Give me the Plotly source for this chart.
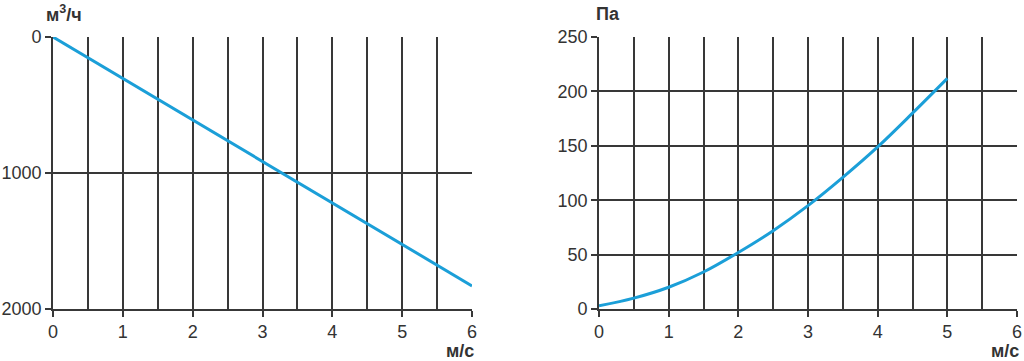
import plotly.graph_objects as go

# Left chart: airflow (m³/h) vs velocity (m/s)
flow_x = [0, 1, 2, 3, 4, 5, 6]
flow_y = [0, 305, 610, 915, 1220, 1525, 1830]

# Right chart: pressure (Pa) vs velocity (m/s)
pres_x = [0, 0.5, 1, 1.5, 2, 2.5, 3, 3.5, 4, 4.5, 5]
pres_y = [3, 10, 20, 34, 52, 72, 95, 121, 149, 180, 212]

x_ticks = [0, 1, 2, 3, 4, 5, 6]
left_y_ticks = [0, 1000, 2000]
right_y_ticks = [0, 50, 100, 150, 200, 250]

LINE = "#1b9fd8"
GRID = "#383838"
TXT = "#333333"
FONT = "Liberation Sans, Arial, sans-serif"
GW = 1.7

W, H = 1024, 361

def px(x):
    return x / W

def py(y):
    return 1 - y / H

fig = go.Figure()
fig.add_trace(go.Scatter(x=flow_x, y=flow_y, mode="lines",
                         line=dict(color=LINE, width=3), xaxis="x", yaxis="y",
                         showlegend=False, hoverinfo="skip"))
fig.add_trace(go.Scatter(x=pres_x, y=pres_y, mode="lines", line_shape="spline",
                         line=dict(color=LINE, width=3), xaxis="x2", yaxis="y2",
                         showlegend=False, hoverinfo="skip"))

ydom = [py(309), py(37)]

def xax(dom, anchor):
    return dict(domain=dom, anchor=anchor, range=[0, 6], tickvals=x_ticks,
                automargin=False,
                showgrid=True, gridcolor=GRID, gridwidth=GW,
                minor=dict(dtick=0.5, tick0=0, showgrid=True, gridcolor=GRID, gridwidth=GW, ticks=""),
                showline=True, linecolor=GRID, linewidth=GW,
                ticks="outside", ticklen=6, tickcolor=GRID, tickwidth=GW,
                tickfont=dict(size=18, color=TXT, family=FONT), zeroline=False)

def yax(dom, anchor, rng, vals):
    return dict(domain=dom, anchor=anchor, range=rng, tickvals=vals,
                automargin=False,
                showgrid=True, gridcolor=GRID, gridwidth=GW,
                showline=True, linecolor=GRID, linewidth=GW,
                ticks="outside", ticklen=6, tickcolor=GRID, tickwidth=GW,
                tickfont=dict(size=18, color=TXT, family=FONT), zeroline=False)

fig.update_layout(
    width=W, height=H,
    margin=dict(l=0, r=0, t=0, b=0, autoexpand=False),
    paper_bgcolor="white", plot_bgcolor="white",
    xaxis=xax([px(53), px(472)], "y"),
    xaxis2=xax([px(599), px(1017)], "y2"),
    yaxis=yax(ydom, "x", [2000, 0], left_y_ticks),
    yaxis2=yax(ydom, "x2", [0, 250], right_y_ticks),
)

ann_font = dict(size=18, color=TXT, family=FONT)
for text, x, y in [("<b>м<sup>3</sup>/ч</b>", 64, 14),
                   ("<b>м/с</b>", 460, 351),
                   ("<b>Па</b>", 608, 14),
                   ("<b>м/с</b>", 1005, 351)]:
    fig.add_annotation(text=text, x=px(x), y=py(y), xref="paper", yref="paper",
                       xanchor="center", yanchor="middle", showarrow=False, font=ann_font)

fig.write_html("out.html", config={"displayModeBar": False},
               post_script="document.body.style.margin='0';document.body.style.overflow='hidden';")
